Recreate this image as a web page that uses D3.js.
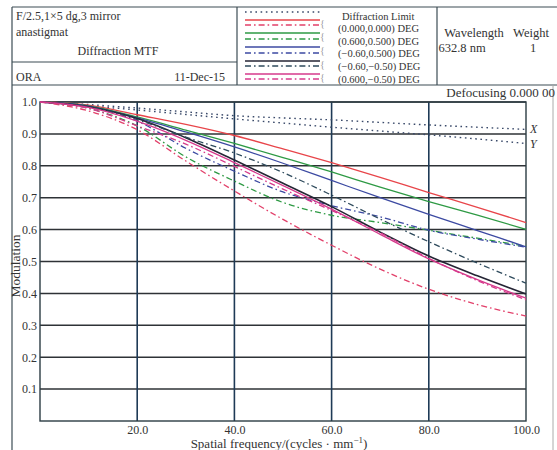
<!DOCTYPE html>
<html><head><meta charset="utf-8">
<script src="https://cdn.jsdelivr.net/npm/d3@7"></script>
<style>
html,body{margin:0;padding:0;background:#fff;}
svg text{font-family:"Liberation Serif","Times New Roman",serif;fill:#333;}
</style></head>
<body><svg id="c" width="557" height="450"></svg>
<script>
// ---- data ----
const freq = [0,10,20,30,40,50,60,70,80,90,100];
const diffX = [1,0.992,0.981,0.969,0.957,0.950,0.944,0.936,0.928,0.921,0.914];
const diffY = [1,0.988,0.975,0.961,0.947,0.934,0.921,0.909,0.897,0.884,0.870];
const redT = [1,0.990,0.960,0.930,0.895,0.853,0.810,0.764,0.716,0.670,0.622];
const redS = [1,0.972,0.913,0.815,0.721,0.632,0.551,0.476,0.413,0.365,0.329];
const greenT = [1,0.988,0.953,0.912,0.870,0.826,0.781,0.733,0.688,0.645,0.601];
const greenS = [1,0.980,0.925,0.828,0.752,0.685,0.645,0.622,0.598,0.573,0.548];
const blueT = [1,0.987,0.950,0.906,0.859,0.808,0.754,0.700,0.648,0.597,0.546];
const blueS = [1,0.985,0.940,0.855,0.783,0.718,0.675,0.640,0.598,0.570,0.545];
const blackT = [1,0.985,0.948,0.888,0.818,0.745,0.672,0.592,0.517,0.455,0.398];
const blackS = [1,0.985,0.945,0.890,0.840,0.779,0.708,0.633,0.562,0.495,0.432];
const magT = [1,0.983,0.940,0.880,0.810,0.738,0.664,0.585,0.508,0.443,0.385];
const magS = [1,0.980,0.925,0.868,0.798,0.727,0.660,0.590,0.510,0.440,0.380];
const yTicks = [0.1,0.2,0.3,0.4,0.5,0.6,0.7,0.8,0.9,1.0];
const xTicks = [20,40,60,80,100];
const legendLabels = ["Diffraction Limit","(0.000,0.000) DEG","(0.600,0.500) DEG","(\u22120.60,0.500) DEG","(\u22120.60,\u22120.50) DEG","(0.600,\u22120.50) DEG"];

// ---- styles ----
const DOT = "1.6,3.6", DD = "6,3,1.6,3";
const series = [
  {v:diffX, c:"#3a4a6a", d:DOT, w:1.4},
  {v:diffY, c:"#3a4a6a", d:DOT, w:1.4},
  {v:redT, c:"#e8454a", d:null, w:1.3},
  {v:redS, c:"#e2406a", d:DD, w:1.3},
  {v:greenT, c:"#2e9a44", d:null, w:1.3},
  {v:greenS, c:"#2e9a44", d:DD, w:1.3},
  {v:blueT, c:"#3c4aa2", d:null, w:1.3},
  {v:blueS, c:"#3c4aa2", d:DD, w:1.3},
  {v:blackT, c:"#252535", d:null, w:1.6},
  {v:blackS, c:"#2e4a5c", d:DD, w:1.3},
  {v:magT, c:"#d63a8c", d:null, w:1.3},
  {v:magS, c:"#d63a8c", d:DD, w:1.3}
];

const svg = d3.select("#c");
const frame = "#3c4c54";

// ---- header frame ----
const hdr = svg.append("g").attr("fill","none").attr("stroke",frame).attr("stroke-width",1.2);
hdr.append("line").attr("x1",12).attr("x2",557).attr("y1",7).attr("y2",7);
hdr.append("line").attr("x1",12).attr("x2",557).attr("y1",85).attr("y2",85);
hdr.append("line").attr("x1",12).attr("x2",237).attr("y1",62).attr("y2",62);
hdr.append("line").attr("x1",12).attr("x2",12).attr("y1",7).attr("y2",450);
hdr.append("line").attr("x1",237).attr("x2",237).attr("y1",7).attr("y2",85);
hdr.append("line").attr("x1",437).attr("x2",437).attr("y1",7).attr("y2",85);
svg.append("line").attr("x1",553).attr("x2",553).attr("y1",85).attr("y2",450).attr("stroke","#aaa").attr("stroke-width",1);

const T = (x,y,s,fs,anchor)=>svg.append("text").attr("x",x).attr("y",y).attr("font-size",fs).attr("text-anchor",anchor||"start").text(s);
T(16,20,"F/2.5,1\u00d75 dg,3 mirror",12);
T(16,36,"anastigmat",12);
T(118,55,"Diffraction MTF",12,"middle");
T(16,81,"ORA",12);
T(225,81,"11-Dec-15",12,"end");
T(474,37,"Wavelength",12.5,"middle");
T(531,37,"Weight",12.5,"middle");
T(462,52,"632.8 nm",12.5,"middle");
T(533,52,"1",12.5,"middle");
T(555,97,"Defocusing 0.000 00",13,"end");

// ---- legend ----
const lg = svg.append("g");
const lineYs = [12,20,25,33,39,47,53,61,66,74,79];
series.slice(1).forEach((s,i)=>{
  lg.append("line").attr("x1",245).attr("x2",320).attr("y1",lineYs[i]).attr("y2",lineYs[i])
    .attr("stroke",s.c).attr("stroke-width",1.3).attr("stroke-dasharray",s.d);
});
legendLabels.forEach((l,i)=>{
  lg.append("text").attr("x",i===0?342:338).attr("y",[20,32,45,57,70,83][i]).attr("font-size",10.5).text(l);
  if(i>0) lg.append("text").attr("x",320).attr("y",lineYs[2*i-1]+7).attr("font-size",10).style("fill","#999").text("{");
});

// ---- plot ----
const x = d3.scaleLinear().domain([0,100]).range([40,526]);
const y = d3.scaleLinear().domain([0,1]).range([421,102]);

const grid = svg.append("g");
yTicks.forEach(t=>grid.append("line").attr("x1",x(0)).attr("x2",x(100)).attr("y1",y(t)).attr("y2",y(t)).attr("stroke","#2e3236").attr("stroke-width",1.5));
xTicks.slice(0,-1).forEach(t=>grid.append("line").attr("x1",x(t)).attr("x2",x(t)).attr("y1",y(0)).attr("y2",y(1)).attr("stroke","#1e3a56").attr("stroke-width",1.6));
svg.append("rect").attr("x",x(0)).attr("y",y(1)).attr("width",x(100)-x(0)).attr("height",y(0)-y(1))
  .attr("fill","none").attr("stroke","#2c3c44").attr("stroke-width",1.4);

const yAx = svg.append("g").attr("transform",`translate(${x(0)},0)`)
  .call(d3.axisLeft(y).tickValues(yTicks).tickFormat(d3.format(".1f")).tickSize(0).tickPadding(3));
yAx.select(".domain").remove();
yAx.selectAll("text").attr("font-size",12).attr("font-family","Liberation Serif").style("fill","#333");

const xAx = svg.append("g").attr("transform",`translate(0,${y(0)})`)
  .call(d3.axisBottom(x).tickValues(xTicks).tickFormat(d3.format(".1f")).tickSize(0).tickPadding(4));
xAx.select(".domain").remove();
xAx.selectAll("text").attr("font-size",12).attr("font-family","Liberation Serif").style("fill","#333");

const line = d3.line().x((d,i)=>x(freq[i])).y(d=>y(d)).curve(d3.curveMonotoneX);
series.forEach(s=>{
  svg.append("path").attr("d",line(s.v)).attr("fill","none").attr("stroke",s.c)
    .attr("stroke-width",s.w).attr("stroke-dasharray",s.d);
});

svg.append("text").attr("x",530).attr("y",y(diffX[10])+4).attr("font-size",12).attr("font-style","italic").text("X");
svg.append("text").attr("x",530).attr("y",y(diffY[10])+5).attr("font-size",12).attr("font-style","italic").text("Y");

svg.append("text").attr("transform",`translate(20,266) rotate(-90)`).attr("text-anchor","middle").attr("font-size",13.5).text("Modulation");
const xt = svg.append("text").attr("x",279).attr("y",448).attr("text-anchor","middle").attr("font-size",13);
xt.append("tspan").text("Spatial frequency/(cycles \u00b7 mm");
xt.append("tspan").attr("dy",-5).attr("font-size",9).text("\u22121");
xt.append("tspan").attr("dy",5).text(")");
</script></body></html>
